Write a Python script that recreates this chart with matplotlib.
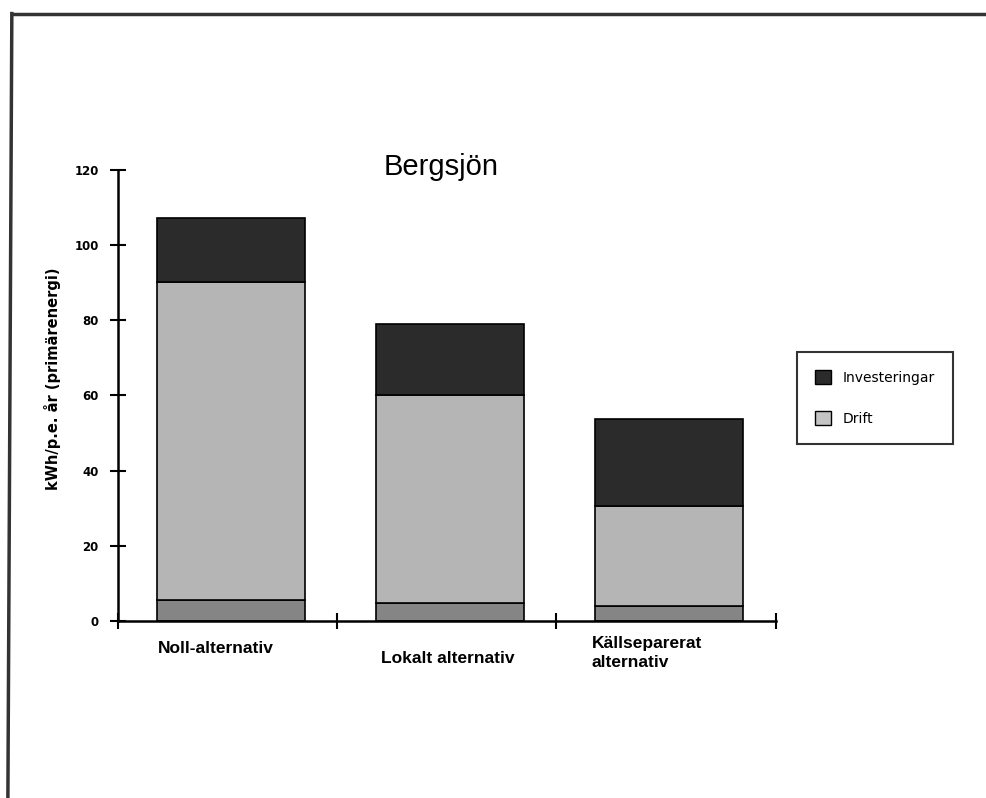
import matplotlib
matplotlib.use("Agg")
import matplotlib.pyplot as plt
from matplotlib.lines import Line2D
from matplotlib.patches import Patch

categories = ["Noll-alternativ", "Lokalt alternativ", "Källseparerat\nalternativ"]
base = [5.6, 4.8, 4.0]          # dark grey bottom part (not in legend)
drift = [84.6, 55.3, 26.6]      # light grey part
investeringar = [17.0, 18.9, 23.1]
yticks = [0, 20, 40, 60, 80, 100, 120]

fig = plt.figure(figsize=(9.86, 7.98), dpi=100)
ax = fig.add_axes([0.1197, 0.2218, 0.667, 0.5652])

x = [i + 0.015 for i in range(len(categories))]
w = 0.675
ax.bar(x, base, w, color="#858585", edgecolor="black", linewidth=1.2)
ax.bar(x, drift, w, bottom=base, color="#b5b5b5", edgecolor="black", linewidth=1.2)
bottom3 = [b + d for b, d in zip(base, drift)]
ax.bar(x, investeringar, w, bottom=bottom3, color="#2b2b2b", edgecolor="black", linewidth=1.2)

ax.set_xlim(-0.5, 2.5)
ax.set_ylim(0, 120)
ax.set_yticks(yticks)
ax.set_yticklabels([str(t) for t in yticks], fontsize=8.5, fontweight="bold")
ax.set_xticks([-0.5, 0.5, 1.5, 2.5])
ax.set_xticklabels([])
ax.tick_params(axis="both", direction="inout", length=12, width=1.5)
ax.tick_params(axis="y", pad=8)
for s in ["top", "right"]:
    ax.spines[s].set_visible(False)
for s in ["left", "bottom"]:
    ax.spines[s].set_linewidth(1.8)

# category labels sit at slightly different heights in the original
label_y = [-7.3, -10.0, -8.6]
label_dx = [-0.32, -0.30, -0.34]
for i, lab in enumerate(categories):
    ax.text(i + label_dx[i], label_y[i], lab, ha="left", va="center", fontsize=12.5,
            fontweight="bold", family="Liberation Sans", linespacing=1.35)

fig.text(0.053, 0.526, "kWh/p.e. år (primärenergi)", rotation=90, ha="center",
         va="center", fontsize=10.5, fontweight="bold")

fig.text(0.447, 0.791, "Bergsjön", ha="center", va="center", fontsize=21,
         family="Liberation Sans")

handles = [Patch(facecolor="#2b2b2b", edgecolor="black"),
           Patch(facecolor="#c4c4c4", edgecolor="black")]
leg = fig.legend(handles, ["Investeringar", "Drift"], loc="upper left",
                 bbox_to_anchor=(0.808, 0.559), frameon=True, fancybox=False,
                 fontsize=10, handlelength=1.2, handleheight=1.2,
                 labelspacing=1.9, borderpad=1.3, handletextpad=0.8,
                 borderaxespad=0)
leg.get_frame().set_edgecolor("black")
leg.get_frame().set_linewidth(1.5)

# page frame (scan border)
fig.add_artist(Line2D([0.012, 1.0], [0.983, 0.983], color="#333333", linewidth=2.5))
fig.add_artist(Line2D([0.012, 0.008], [0.983, 0.0], color="#333333", linewidth=2.5))

fig.savefig("out.png", dpi=100)
